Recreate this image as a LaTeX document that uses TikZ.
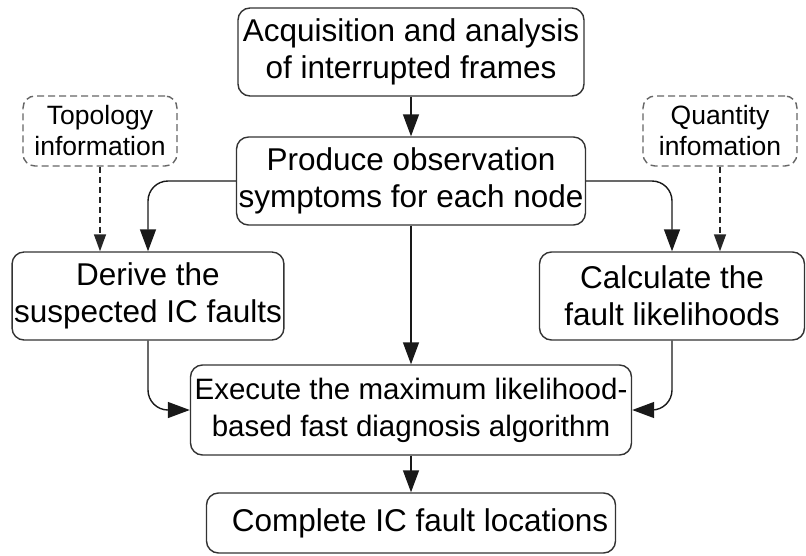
\documentclass[tikz,border=0pt]{standalone}
\usepackage{fontspec}
\setsansfont{Liberation Sans}
\usetikzlibrary{positioning, arrows.meta}

\begin{document}
\begin{tikzpicture}[
    x=1pt, y=-1pt,
    font=\sffamily\fontsize{31.5}{37}\selectfont,
    stage/.style={
        draw=black!80, rounded corners=12pt, line width=1.4pt, fill=white,
        minimum height=88pt, align=center, inner sep=2pt,
    },
    info/.style={
        draw=black!60, dash pattern=on 7pt off 4pt, rounded corners=12pt, line width=1.4pt,
        minimum width=154pt, minimum height=70pt, align=center, inner sep=2pt,
        font=\sffamily\fontsize{26.5}{31}\selectfont,
    },
    arrow/.style={-{Triangle[length=22pt,width=16pt]}, draw=black!90, line width=1.4pt},
    hint/.style={-{Triangle[length=17pt,width=12pt]}, draw=black!85, line width=1.4pt,
        dash pattern=on 6pt off 4pt},
]
\useasboundingbox (0,0) rectangle (806,555);

% --- main column ---
\node[stage, minimum width=346pt] (acq) at (411,52)
    {Acquisition and analysis\\of interrupted frames};
\node[stage, minimum width=345pt] (prod) at (411,181)
    {Produce observation\\symptoms for each node};

% --- side inputs ---
\node[info] (topo) at (100,131) {Topology\\information};
\node[info] (quant) at (720,131) {Quantity\\infomation};

% --- branches ---
\node[stage, minimum width=270pt] (derive) at (148,296)
    {Derive the\\suspected IC faults};
\node[stage, minimum width=265pt] (calc) at (672,296)
    {Calculate the\\fault likelihoods};

% --- diagnosis and result ---
\node[stage, minimum width=441pt, minimum height=90pt,
      font=\sffamily\fontsize{29.5}{37}\selectfont] (exec) at (411,410)
    {Execute the maximum likelihood-\\based fast diagnosis algorithm};
\node[stage, minimum width=409pt, minimum height=60pt] (done) at (411,523)
    {\hspace{18pt}Complete IC fault locations};

% connectors
\draw[arrow] (acq) -- (prod);
\draw[arrow, rounded corners=20pt] (prod.west) -| (derive.north);
\draw[arrow, rounded corners=20pt] (prod.east) -| (calc.north);
\draw[arrow] (prod) -- (exec);
\draw[arrow, rounded corners=20pt] (derive.south) |- (exec.west);
\draw[arrow, rounded corners=20pt] (calc.south) |- (exec.east);
\draw[arrow] (exec) -- (done);
\draw[hint] (topo.south) -- (topo.south |- derive.north);
\draw[hint] (quant.south) -- (quant.south |- calc.north);

\end{tikzpicture}
\end{document}
